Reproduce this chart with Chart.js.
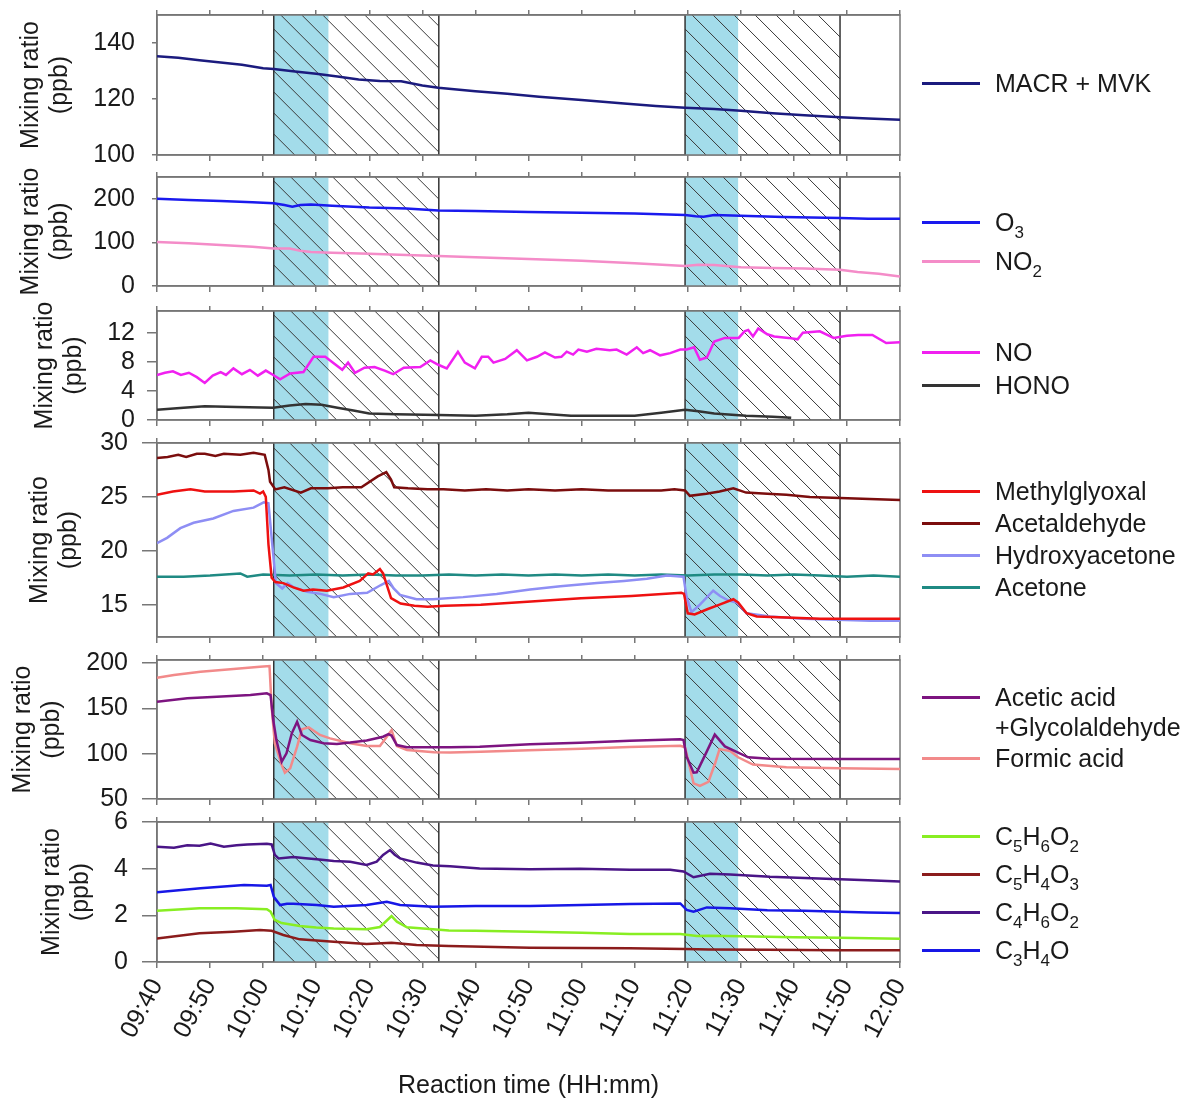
<!DOCTYPE html>
<html>
<head>
<meta charset="utf-8">
<script src="https://cdn.jsdelivr.net/npm/chart.js@4.4.0/dist/chart.umd.min.js"></script>
<style>
body{margin:0;background:#fff;width:1190px;height:1111px;overflow:hidden;position:relative;font-family:"Liberation Sans",Arial,sans-serif;color:#1a1a1a}
.panel{position:absolute;left:0}
.leg{position:absolute;left:922px;width:58px;height:3px;margin-top:-1.5px}
.lt{position:absolute;left:995px;font-size:25px;line-height:25px;white-space:nowrap;transform:translateY(-50%)}
.lt sub{font-size:17px;vertical-align:-7px;line-height:0}
</style>
</head>
<body>
<script>
// time in minutes after 09:40
const timeTicks = [0,10,20,30,40,50,60,70,80,90,100,110,120,130,140];
const timeLabels = ['09:40','09:50','10:00','10:10','10:20','10:30','10:40','10:50','11:00','11:10','11:20','11:30','11:40','11:50','12:00'];

// irradiation (blue) and dark/hatched periods, minutes after 09:40
const blueSpans = [[22,32.3],[99.5,109.5]];
const hatchSpans = [[22,53.1],[99.5,128.7]];
const edgeLines = [22,53.1,99.5,128.7];

// y ticks per panel
const yTicks1 = [100,120,140];
const yTicks2 = [0,100,200];
const yTicks3 = [0,4,8,12];
const yTicks4 = [15,20,25,30];
const yTicks5 = [50,100,150,200];
const yTicks6 = [0,2,4,6];

// series: [minute, ppb]
const macr = [[0,135.3],[4,134.7],[8,133.8],[12,133.0],[16,132.2],[20,131.0],[22,130.7],[26,129.8],[30,129.0],[34,128.0],[38,127.0],[42,126.4],[46,126.3],[50,124.8],[53,124.0],[60,122.8],[66,121.9],[72,120.8],[80,119.6],[88,118.4],[94,117.5],[99.5,116.9],[105,116.4],[110,115.8],[116,114.9],[122,114.2],[128.7,113.5],[134,113.0],[140,112.6]];
const o3 = [[0,200],[6,197],[12,195],[18,192],[22,190],[24,186],[25.5,182],[27,186],[29,187],[33,184],[40,180],[47,178],[53,173],[60,172],[70,170],[80,168],[90,166],[99.5,163],[101.5,160],[103,159],[105,163],[110,161],[118,158],[128.7,156],[134,154],[140,154]];
const no2 = [[0,101],[6,98],[12,94],[18,90],[22,86],[25,86],[27,81],[29,78],[33,76],[40,74],[47,71],[53,69],[60,66],[70,62],[80,58],[90,52],[99.5,46],[102,49],[105,48],[110,43],[116,41],[122,40],[128.7,37],[132,32],[136,28],[140,22]];
const no = [[0,6.2],[1.5,6.5],[3,6.7],[4.5,6.2],[6,6.5],[7.5,5.9],[9,5.1],[10.5,6.1],[12,6.6],[13,6.2],[14.4,7.1],[16,6.3],[17.5,6.9],[19,6.1],[20.5,6.8],[21.9,6.2],[23.2,5.6],[25.1,6.4],[27.6,6.6],[29.5,8.7],[31.7,8.7],[33.3,7.8],[34.9,6.9],[36,7.9],[37.3,6.5],[39.1,7.2],[41,7.3],[42.9,6.8],[44.5,6.3],[46.5,7.2],[49.6,7.3],[51.5,8.2],[53,7.6],[54.6,7.1],[56.7,9.4],[58,7.9],[59.9,7.1],[61.2,8.7],[62.4,8.7],[63.4,7.9],[65.6,8.4],[67.8,9.6],[69.7,8.2],[71.6,8.7],[73.1,9.3],[75,8.6],[76.2,8.7],[77.2,9.4],[78.4,9.0],[79.4,9.7],[81,9.4],[82.8,9.8],[85.3,9.6],[86.6,9.7],[88.5,9.0],[90.4,10.0],[91.6,9.2],[92.9,9.6],[94.8,8.9],[96.7,9.2],[98.6,9.7],[99.8,9.7],[101.2,10.0],[102.3,8.3],[103.6,8.6],[105,10.8],[107,11.3],[109.6,11.3],[110.7,12.2],[111.4,12.4],[112.3,11.5],[113.3,12.6],[115,11.8],[116.3,11.5],[119,11.3],[120.7,11.1],[121.7,12.0],[124.9,12.2],[127.5,11.3],[130,11.6],[132.1,11.7],[134.8,11.7],[137.4,10.6],[140,10.7]];
const hono = [[0,1.4],[5,1.7],[9,1.9],[15,1.8],[21.9,1.7],[25,2.0],[28,2.2],[31,2.1],[34,1.7],[37,1.3],[40,0.9],[45,0.8],[53,0.7],[60,0.6],[66,0.8],[70,1.0],[74,0.8],[78,0.6],[85,0.6],[90,0.6],[95,1.0],[99.5,1.4],[102,1.2],[105,0.9],[111,0.6],[116,0.45],[119.5,0.3]];
const methylglyoxal = [[0,25.2],[3,25.5],[6.3,25.7],[9,25.5],[14.4,25.5],[18.2,25.6],[19.4,25.3],[20,25.5],[20.5,25.0],[21,20.6],[21.6,17.5],[22.3,17.1],[23.8,17.0],[25.7,16.6],[27.6,16.3],[29.4,16.4],[32,16.3],[35.1,16.6],[38.2,17.2],[39.8,17.9],[40.7,17.8],[42,18.3],[42.6,17.9],[44.1,15.6],[45.9,15.1],[48.5,14.9],[51,14.8],[54.2,14.9],[61,15.0],[70.5,15.3],[79.9,15.6],[89.4,15.8],[98.8,16.1],[99.3,16.0],[100,14.2],[101.3,14.1],[103.8,14.6],[106,15.0],[108.6,15.5],[109.5,15.2],[111.1,14.2],[113,13.9],[118.6,13.8],[125,13.7],[132,13.7],[140,13.7]];
const acetaldehyde = [[0,28.6],[2,28.7],[4,28.9],[5.5,28.7],[7.5,29.0],[9,29.0],[11,28.8],[12.6,29.0],[15.7,28.9],[18.2,29.1],[20.3,28.9],[21,27.5],[21.3,26.4],[22.3,25.7],[24,25.9],[27.1,25.4],[29,25.8],[32.2,25.8],[35,25.9],[38.5,25.9],[41.6,26.9],[43.2,27.3],[44.1,26.6],[44.7,25.9],[47.3,25.8],[51,25.7],[54,25.7],[58,25.6],[62,25.7],[66,25.6],[70,25.7],[75,25.6],[80,25.7],[85,25.6],[90,25.6],[95,25.6],[97.5,25.7],[99.5,25.6],[100.4,25.1],[103.5,25.3],[106,25.5],[108.6,25.8],[111,25.4],[115,25.3],[118.6,25.2],[123,25.0],[128.7,24.9],[134.3,24.8],[140,24.7]];
const hydroxyacetone = [[0,20.7],[1.9,21.2],[4.4,22.1],[6.9,22.6],[10.6,23.0],[14.4,23.7],[18.2,24.0],[20.1,24.5],[21,24.4],[21.7,20.7],[22.4,17.0],[23.6,16.5],[24.6,17.0],[25.8,16.6],[28.3,16.2],[30.8,16.0],[33.3,15.7],[36.4,16.0],[39.6,16.1],[42.1,16.8],[43.7,17.2],[44.6,16.5],[45.8,15.9],[48.9,15.5],[52,15.5],[57.7,15.7],[64,16.0],[70.3,16.4],[76,16.7],[82.9,17.0],[88,17.2],[92.3,17.4],[96.1,17.7],[99.2,17.6],[99.8,15.7],[100.7,14.3],[102.3,15.0],[104.8,16.3],[106.1,15.8],[107.6,15.4],[109.2,15.2],[111.1,14.2],[115.5,13.9],[121.8,13.7],[128.1,13.6],[134.4,13.5],[140,13.5]];
const acetone = [[0,17.6],[5,17.6],[10,17.7],[15.7,17.9],[17,17.6],[20,17.8],[25,17.7],[30,17.8],[35,17.7],[40,17.8],[45,17.7],[50,17.7],[55,17.8],[60,17.7],[65,17.8],[70,17.7],[75,17.8],[80,17.7],[85,17.8],[90,17.7],[95,17.8],[100,17.7],[105,17.8],[110,17.8],[115,17.7],[120,17.8],[125,17.7],[130,17.6],[135,17.7],[140,17.6]];
const aceticAcid = [[0,157.3],[5.7,161],[11.3,162.8],[17.6,164.7],[20.7,166.5],[21.4,164.7],[21.9,137.1],[22.5,115],[23.5,91.1],[24.4,100.4],[25.4,122.4],[26.4,135.2],[27.3,120.6],[28.9,115],[31.4,111.4],[33.9,110.7],[36.4,112.2],[39.5,114.5],[42.6,118.7],[43.6,121.6],[44.2,120],[45.2,109.5],[47.1,107],[52.2,107],[55.3,107],[60.8,107.7],[70.3,110.3],[79.7,112.1],[89.1,114.3],[98.6,115.8],[99.2,115],[99.8,96.7],[101.1,79],[101.7,79.5],[103.2,97.6],[105.1,121],[107,108],[109.2,102],[111.4,96],[115.5,94.5],[128.1,94],[140,94]];
const formicAcid = [[0,183.8],[3.2,186.7],[8.2,190.4],[14.4,193.3],[19.4,195.9],[21.2,196.6],[21.6,151.8],[22.2,111.4],[23.5,87.5],[24.1,79],[25.1,83.8],[26.4,107.7],[27.3,126.8],[28.6,129],[30.7,120.6],[32.6,116.9],[36.4,111.4],[39.5,108.4],[42,108.4],[43.3,118.7],[44.2,126],[45.2,108.4],[47.1,104],[52.2,101.5],[55.3,101.2],[61,102],[70,103.7],[80,105.5],[89,107.4],[98.6,108.6],[99.5,107],[101.1,67.3],[102.3,64.4],[103.9,69],[105.2,90],[106,105],[108,103],[109.5,96],[112.3,88],[118.6,85],[128.7,84],[140,83]];
const c5h6o2 = [[0,2.2],[8,2.3],[15,2.3],[20.7,2.26],[21.4,2.16],[22.2,1.8],[23.5,1.67],[26.9,1.54],[30,1.48],[33.3,1.44],[39.5,1.4],[42,1.5],[44.2,1.97],[45.2,1.73],[47.1,1.49],[52,1.4],[55,1.35],[60,1.34],[70.3,1.3],[80,1.25],[89.1,1.2],[98.6,1.2],[101.7,1.11],[104,1.13],[110,1.1],[120,1.06],[128.7,1.04],[140,1.0]];
const c5h4o3 = [[0,1.01],[8,1.23],[14.4,1.3],[19.4,1.37],[21.6,1.34],[23.8,1.16],[26.9,0.97],[33.3,0.87],[39.5,0.77],[44.2,0.82],[48.9,0.73],[55,0.69],[70.3,0.61],[89,0.59],[99.5,0.56],[104,0.54],[115,0.52],[128,0.5],[140,0.5]];
const c4h6o2 = [[0,4.94],[3.2,4.9],[5.7,5.0],[8,4.98],[10.1,5.08],[12.6,4.94],[15,5.0],[17,5.04],[20.7,5.07],[21.6,5.04],[22.2,4.59],[22.9,4.44],[25.7,4.5],[28,4.45],[30.1,4.4],[33.3,4.33],[36.4,4.3],[39.5,4.16],[41.4,4.3],[42.6,4.59],[43.9,4.8],[44.8,4.6],[45.8,4.44],[48.9,4.26],[52,4.14],[55.2,4.1],[60.8,4.01],[70.3,3.97],[79.7,4.0],[89.1,3.95],[96.7,3.95],[99.2,3.88],[101.1,3.63],[104.2,3.78],[108,3.75],[115.5,3.65],[122,3.6],[128.7,3.55],[134,3.5],[140,3.45]];
const c3h4o = [[0,2.99],[8.2,3.16],[16.4,3.3],[20.7,3.27],[21.4,3.3],[22,2.8],[23.2,2.44],[24.5,2.5],[25.7,2.5],[30.1,2.44],[33.3,2.37],[39.5,2.44],[43.3,2.58],[45.8,2.44],[52,2.37],[60,2.4],[70.3,2.4],[80,2.44],[89.1,2.49],[98.6,2.51],[99.8,2.23],[101.1,2.16],[103.6,2.34],[108,2.3],[115,2.22],[122,2.2],[128.7,2.15],[134,2.12],[140,2.1]];

const FONT = 'Liberation Sans, Arial, sans-serif';
const TXT = '#1a1a1a';
const AX = '#777';

const panels = [
  {top:15, h:140, min:100, max:150, ticks:yTicks1, tpad:16.5, tl:5, lpad:17,
   series:[{label:'MACR + MVK', data:macr, color:'#1b1b7e', ly:83}]},
  {top:177, h:109, min:0, max:250, ticks:yTicks2, tpad:16.5, tl:5, lpad:17,
   series:[{label:'O<sub>3</sub>', data:o3, color:'#1a1aee', ly:222},
           {label:'NO<sub>2</sub>', data:no2, color:'#f48cc8', ly:261}]},
  {top:311, h:109, min:0, max:15, ticks:yTicks3, tpad:30.5, tl:10, lpad:12,
   series:[{label:'NO', data:no, color:'#f020f0', ly:352},
           {label:'HONO', data:hono, color:'#333333', ly:385}]},
  {top:443, h:194, min:12, max:30, ticks:yTicks4, tpad:25.5, tl:15, lpad:14,
   series:[{label:'Methylglyoxal', data:methylglyoxal, color:'#ee1111', ly:491},
           {label:'Acetaldehyde', data:acetaldehyde, color:'#7b0d0d', ly:523},
           {label:'Hydroxyacetone', data:hydroxyacetone, color:'#8e8ef4', ly:555},
           {label:'Acetone', data:acetone, color:'#1f8a83', ly:587}]},
  {top:660, h:139, min:50, max:203.3, ticks:yTicks5, tpad:8.5, tl:15, lpad:14,
   series:[{label:'Acetic acid', extra:'+Glycolaldehyde', data:aceticAcid, color:'#7d1480', ly:697},
           {label:'Formic acid', data:formicAcid, color:'#f28a8a', ly:758}]},
  {top:822, h:140, min:0, max:6, ticks:yTicks6, tpad:37.5, tl:15, lpad:14, last:true,
   series:[{label:'C<sub>5</sub>H<sub>6</sub>O<sub>2</sub>', data:c5h6o2, color:'#88ee22', ly:836},
           {label:'C<sub>5</sub>H<sub>4</sub>O<sub>3</sub>', data:c5h4o3, color:'#8b1c1c', ly:874},
           {label:'C<sub>4</sub>H<sub>6</sub>O<sub>2</sub>', data:c4h6o2, color:'#4a1587', ly:912},
           {label:'C<sub>3</sub>H<sub>4</sub>O', data:c3h4o, color:'#1717e6', ly:950}]}
];

const shade = {
  id:'shade',
  beforeDatasetsDraw(chart){
    const {ctx, chartArea:a, scales:{x}} = chart;
    ctx.save();
    ctx.beginPath(); ctx.rect(a.left, a.top, a.width, a.height); ctx.clip();
    ctx.fillStyle = '#a3dcea';
    blueSpans.forEach(([s,e])=>{
      const x0 = x.getPixelForValue(s), x1 = x.getPixelForValue(e);
      ctx.fillRect(x0, a.top, x1-x0, a.height);
    });
    hatchSpans.forEach(([s,e])=>{
      const x0 = x.getPixelForValue(s), x1 = x.getPixelForValue(e);
      ctx.save();
      ctx.beginPath(); ctx.rect(x0, a.top, x1-x0, a.height); ctx.clip();
      ctx.strokeStyle = '#3a3a3a'; ctx.lineWidth = 1;
      ctx.beginPath();
      const h = a.height;
      for(let k=x0-h; k<x1; k+=21){ ctx.moveTo(k, a.top); ctx.lineTo(k+h, a.bottom); }
      ctx.stroke();
      ctx.restore();
    });
    ctx.strokeStyle = '#333'; ctx.lineWidth = 1.5;
    edgeLines.forEach(t=>{
      const px = x.getPixelForValue(t);
      ctx.beginPath(); ctx.moveTo(px, a.top); ctx.lineTo(px, a.bottom); ctx.stroke();
    });
    ctx.restore();
    ctx.save();
    ctx.strokeStyle = AX; ctx.lineWidth = 1.5;
    ctx.strokeRect(a.left, a.top, a.width, a.height);
    ctx.restore();
  }
};

const setTimeTicks = s => { s.ticks = timeTicks.map(v=>({value:v})); };

panels.forEach(p=>{
  const padTop = 22;
  const padBottom = p.last ? 1111 - (p.top + p.h) : 22;
  const div = document.createElement('div');
  div.className = 'panel';
  div.style.top = (p.top - padTop) + 'px';
  const cv = document.createElement('canvas');
  cv.width = 930; cv.height = p.h + padTop + padBottom;
  div.appendChild(cv);
  document.body.appendChild(div);

  new Chart(cv, {
    type:'line',
    data:{ datasets: p.series.map(s=>({
      data: s.data.map(([x,y])=>({x,y})),
      borderColor: s.color, borderWidth: 2.5, pointRadius: 0, tension: 0, fill: false
    })) },
    options:{
      responsive:false, animation:false, events:[],
      layout:{ padding:{ left:0, top:0, bottom:0, right:30 } },
      plugins:{ legend:{display:false}, tooltip:{enabled:false} },
      scales:{
        x:{ type:'linear', position:'bottom', min:0, max:140,
            afterBuildTicks:setTimeTicks,
            afterFit:s=>{ s.height = padBottom; s.paddingLeft = 0; s.paddingRight = 0; },
            grid:{ drawOnChartArea:false, tickLength:6, color:AX, lineWidth:1.5 },
            border:{ color:AX, width:1.5 },
            ticks:{ display:!!p.last, autoSkip:false, minRotation:62, maxRotation:62, padding:6,
                    font:{family:FONT, size:25}, color:TXT,
                    callback:v=> timeLabels[Math.round(v/10)] },
            title:{ display:!!p.last, text:'Reaction time (HH:mm)', color:TXT,
                    font:{family:FONT, size:25, lineHeight:1.16}, padding:{top:0, bottom:10} } },
        x2:{ type:'linear', position:'top', min:0, max:140,
             afterBuildTicks:setTimeTicks,
             afterFit:s=>{ s.height = padTop; s.paddingLeft = 0; s.paddingRight = 0; },
             grid:{ drawOnChartArea:false, tickLength:5, color:AX, lineWidth:1.5 },
             border:{ color:AX, width:1.5 },
             ticks:{ display:false } },
        y:{ type:'linear', position:'left', min:p.min, max:p.max,
            afterBuildTicks:s=>{ s.ticks = p.ticks.map(v=>({value:v})); },
            afterFit:s=>{ s.width = 157; s.paddingTop = 0; s.paddingBottom = 0; },
            grid:{ drawOnChartArea:false, tickLength:p.tl, color:AX, lineWidth:1.5 },
            border:{ color:AX, width:1.5 },
            ticks:{ padding:p.lpad, font:{family:FONT, size:25}, color:TXT },
            title:{ display:true, text:['Mixing ratio','(ppb)'], color:TXT,
                    font:{family:FONT, size:25, lineHeight:1.16}, padding:{top:p.tpad, bottom:0} } }
      }
    },
    plugins:[shade]
  });

  p.series.forEach(s=>{
    const l = document.createElement('div');
    l.className = 'leg'; l.style.top = s.ly + 'px'; l.style.background = s.color;
    document.body.appendChild(l);
    const t = document.createElement('div');
    t.className = 'lt'; t.style.top = s.ly + 'px'; t.innerHTML = s.label;
    document.body.appendChild(t);
    if(s.extra){
      const t2 = document.createElement('div');
      t2.className = 'lt'; t2.style.top = (s.ly + 30) + 'px'; t2.textContent = s.extra;
      document.body.appendChild(t2);
    }
  });
});
</script>
</body>
</html>
